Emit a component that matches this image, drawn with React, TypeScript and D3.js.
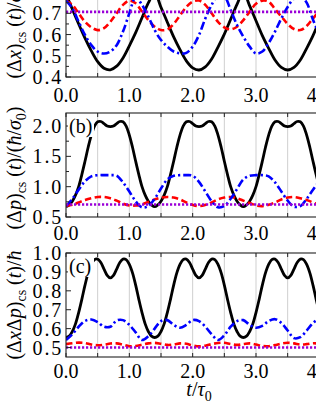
import React from 'react';
import * as d3 from 'd3';

// sample times (t / tau0)
const T10 = d3.range(43).map((i) => Math.round(i * 10) / 100);
const T05 = d3.range(85).map((i) => Math.round(i * 5) / 100);
const T_FLAT = [0, 4.2];

// ---------- panel (a): (Δx)cs(t)/σ0 ----------
const blackA = [0.79,0.72,0.65,0.583,0.523,0.472,0.441,0.434,0.451,0.49,0.547,0.609,0.679,0.749,0.795,0.728,0.658,0.589,0.529,0.476,0.443,0.433,0.448,0.485,0.541,0.602,0.672,0.742,0.80,0.735,0.665,0.595,0.535,0.48,0.445,0.433,0.445,0.48,0.535,0.595,0.665,0.735,0.80];
const redA = [0.76,0.74,0.70,0.66,0.634,0.621,0.63,0.66,0.70,0.74,0.76,0.747,0.708,0.668,0.637,0.621,0.624,0.65,0.69,0.73,0.755,0.76,0.74,0.70,0.66,0.634,0.624,0.637,0.668,0.708,0.745,0.76,0.755,0.72,0.685,0.65,0.626,0.621,0.64,0.676,0.71,0.74,0.758];
const blueA = [0.76,0.724,0.66,0.598,0.55,0.52,0.511,0.52,0.55,0.614,0.70,0.775,0.74,0.685,0.621,0.574,0.543,0.52,0.511,0.514,0.543,0.598,0.676,0.74,0.785,0.78,0.716,0.645,0.59,0.543,0.511,0.52,0.56,0.614,0.676,0.73,0.77,0.785,0.75,0.67,0.60,0.55,0.52];
const purpleA = [0.707, 0.707];

// ---------- panel (b): (Δp)cs(t)/(ħ/σ0) ----------
const blackB = [
  0.67,0.70,0.76,0.86,1.00,1.20,1.42,1.65,1.85,2.00,2.07,2.075,2.04,2.00,1.99,2.00,2.04,2.075,2.07,2.00,1.85,1.65,1.42,1.20,1.00,0.86,0.76,0.70,
  0.67,0.70,0.76,0.86,1.00,1.20,1.42,1.65,1.85,2.00,2.07,2.075,2.04,2.00,1.99,2.00,2.04,2.075,2.07,2.00,1.85,1.65,1.42,1.20,1.00,0.86,0.76,0.70,
  0.67,0.70,0.76,0.86,1.00,1.20,1.42,1.65,1.85,2.00,2.07,2.075,2.04,2.00,1.99,2.00,2.04,2.075,2.07,2.00,1.85,1.65,1.42,1.20,1.00,0.86,0.76,0.70,
  0.67];
const redB = [0.68,0.70,0.74,0.78,0.81,0.83,0.83,0.81,0.77,0.72,0.69,0.69,0.71,0.75,0.79,0.82,0.83,0.82,0.79,0.74,0.70,0.68,0.70,0.74,0.79,0.82,0.83,0.81,0.77,0.73,0.69,0.68,0.70,0.74,0.79,0.82,0.83,0.81,0.78,0.74,0.70,0.68,0.69];
const blueB = [0.68,0.80,0.95,1.09,1.17,1.19,1.19,1.19,1.18,1.07,0.92,0.76,0.66,0.68,0.80,0.97,1.12,1.18,1.19,1.19,1.18,1.08,0.92,0.76,0.66,0.68,0.80,0.96,1.12,1.18,1.19,1.19,1.17,1.07,0.92,0.77,0.67,0.68,0.80,0.95,1.08,1.16,1.19];
const purpleB = [0.707, 0.707];

// ---------- panel (c): (ΔxΔp)cs(t)/ħ ----------
const blackC = [
  0.553,0.56,0.585,0.625,0.685,0.755,0.83,0.895,0.94,0.965,0.968,0.95,0.915,0.882,0.868,0.882,0.915,0.95,0.968,0.965,0.94,0.895,0.83,0.755,0.685,0.625,0.585,0.56,
  0.553,0.56,0.585,0.625,0.685,0.755,0.83,0.895,0.94,0.965,0.968,0.95,0.915,0.882,0.868,0.882,0.915,0.95,0.968,0.965,0.94,0.895,0.83,0.755,0.685,0.625,0.585,0.56,
  0.553,0.56,0.585,0.625,0.685,0.755,0.83,0.895,0.94,0.965,0.968,0.95,0.915,0.882,0.868,0.882,0.915,0.95,0.968,0.965,0.94,0.895,0.83,0.755,0.685,0.625,0.585,0.56,
  0.553];
const redC = [0.518,0.523,0.526,0.524,0.516,0.512,0.515,0.521,0.522,0.515,0.507,0.508,0.515,0.522,0.525,0.52,0.514,0.516,0.522,0.52,0.511,0.506,0.51,0.518,0.524,0.525,0.518,0.514,0.518,0.522,0.516,0.508,0.507,0.513,0.521,0.525,0.522,0.516,0.518,0.523,0.52,0.512,0.508];
const blueC = [0.54,0.57,0.61,0.64,0.648,0.635,0.61,0.61,0.643,0.645,0.62,0.58,0.54,0.56,0.60,0.64,0.645,0.62,0.605,0.62,0.645,0.64,0.61,0.57,0.54,0.565,0.61,0.64,0.645,0.62,0.605,0.615,0.64,0.65,0.63,0.59,0.55,0.555,0.59,0.63,0.65,0.64,0.61];
const purpleC = [0.5, 0.5];

// ---------- ticks ----------
const X_DOMAIN = [0, 4.2];
const X_TICKS = [0, 1, 2, 3, 4];
const X_TICK_LABELS = ['0.0', '1.0', '2.0', '3.0', '4.0'];
const X_GRID = [0.5, 1, 1.5, 2, 2.5, 3, 3.5, 4];
const A_TICKS = [0.4, 0.5, 0.6, 0.7, 0.8];
const A_MINOR = [0.45, 0.55, 0.65, 0.75, 0.85];
const B_TICKS = [0.5, 1.0, 1.5, 2.0];
const B_MINOR = [0.75, 1.25, 1.75];
const C_TICKS = [0.5, 0.6, 0.7, 0.8, 0.9, 1.0];
const C_MINOR: number[] = [];

const W = 316;
const H = 409;
const LEFT = 66;
const RIGHT = 332;
const PANEL_H = 104;
const FONT = "'Liberation Serif', 'Times New Roman', serif";

const STYLES = {
  black: { stroke: '#000000', width: 2.8, dash: undefined as string | undefined },
  red: { stroke: '#ff0000', width: 2.6, dash: '6.5,3.5' },
  blue: { stroke: '#0000ff', width: 2.6, dash: '8,3,2.2,3' },
  purple: { stroke: '#9a00d8', width: 2.6, dash: '2.2,1.8' },
};

type Series = { key: keyof typeof STYLES; t: number[]; v: number[] };

const x = d3.scaleLinear().domain(X_DOMAIN).range([LEFT, RIGHT]);

function YLabel({ kind, cy }: { kind: 'a' | 'b' | 'c'; cy: number }) {
  let content: React.ReactNode;
  if (kind === 'a') {
    content = (
      <>
        <tspan>(Δ</tspan><tspan fontStyle="italic">x</tspan><tspan>)</tspan>
        <tspan fontSize={14} dy={5}>cs</tspan>
        <tspan dy={-5}>{'\u00a0('}</tspan><tspan fontStyle="italic">t</tspan><tspan>)/</tspan>
        <tspan fontStyle="italic">σ</tspan><tspan fontSize={14} dy={5}>0</tspan>
      </>
    );
  } else if (kind === 'b') {
    content = (
      <>
        <tspan>(Δ</tspan><tspan fontStyle="italic">p</tspan><tspan>)</tspan>
        <tspan fontSize={14} dy={5}>cs</tspan>
        <tspan dy={-5}>{'\u00a0('}</tspan><tspan fontStyle="italic">t</tspan><tspan>)/(</tspan>
        <tspan fontStyle="italic">ħ</tspan><tspan>/</tspan>
        <tspan fontStyle="italic">σ</tspan><tspan fontSize={14} dy={5}>0</tspan><tspan dy={-5}>)</tspan>
      </>
    );
  } else {
    content = (
      <>
        <tspan>(Δ</tspan><tspan fontStyle="italic">x</tspan><tspan>Δ</tspan><tspan fontStyle="italic">p</tspan><tspan>)</tspan>
        <tspan fontSize={14} dy={5}>cs</tspan>
        <tspan dy={-5}>{'\u00a0('}</tspan><tspan fontStyle="italic">t</tspan><tspan>)/</tspan>
        <tspan fontStyle="italic">ħ</tspan>
      </>
    );
  }
  return (
    <text transform={`translate(21,${cy}) rotate(-90)`} textAnchor="middle" style={{ fontFamily: FONT, fontSize: 20 }} fill="#000">
      {content}
    </text>
  );
}

function Panel({ id, top, domain, ticks, minor, series, tag, labelKind, labelCy, xLabelOffset }: any) {
  const bottom = top + PANEL_H;
  const y = d3.scaleLinear().domain(domain).range([bottom, top]);
  const line = d3
    .line<[number, number]>()
    .x((d) => x(d[0]))
    .y((d) => y(d[1]))
    .curve(d3.curveCatmullRom.alpha(0.5));
  const clipId = `clip-${id}`;
  return (
    <g>
      <defs>
        <clipPath id={clipId}>
          <rect x={LEFT} y={top} width={RIGHT - LEFT} height={PANEL_H} />
        </clipPath>
      </defs>
      {X_GRID.map((g) => (
        <line key={'g' + g} x1={x(g)} x2={x(g)} y1={top} y2={bottom} stroke="#cfcfcf" strokeWidth={1} />
      ))}
      <g clipPath={`url(#${clipId})`}>
        {(series as Series[]).map((s) => {
          const st = STYLES[s.key];
          const pts = s.t.map((tt, i) => [tt, s.v[i]] as [number, number]);
          return (
            <path
              key={s.key}
              d={line(pts) || ''}
              fill="none"
              stroke={st.stroke}
              strokeWidth={st.width}
              strokeDasharray={st.dash}
              strokeLinejoin="round"
            />
          );
        })}
      </g>
      <rect x={LEFT} y={top} width={RIGHT - LEFT} height={PANEL_H} fill="none" stroke="#222" strokeWidth={1.1} />
      {X_GRID.concat([0]).map((g) => (
        <g key={'xt' + g}>
          <line x1={x(g)} x2={x(g)} y1={bottom} y2={bottom - 4} stroke="#222" strokeWidth={1} />
          <line x1={x(g)} x2={x(g)} y1={top} y2={top + 4} stroke="#222" strokeWidth={1} />
        </g>
      ))}
      {(ticks as number[]).map((v) => (
        <g key={'yt' + v}>
          <line x1={LEFT} x2={LEFT + 5} y1={y(v)} y2={y(v)} stroke="#222" strokeWidth={1} />
          <text x={63} y={y(v)} dy="0.35em" textAnchor="end" style={{ fontFamily: FONT, fontSize: 20, letterSpacing: 1.8 }} fill="#000">
            {v.toFixed(1)}
          </text>
        </g>
      ))}
      {(minor as number[]).map((v) => (
        <line key={'ym' + v} x1={LEFT} x2={LEFT + 3} y1={y(v)} y2={y(v)} stroke="#222" strokeWidth={1} />
      ))}
      {X_TICKS.map((v, i) => (
        <text key={'xl' + v} x={x(v)} y={bottom + xLabelOffset} textAnchor="middle" style={{ fontFamily: FONT, fontSize: 20 }} fill="#000">
          {X_TICK_LABELS[i]}
        </text>
      ))}
      <rect x={LEFT + 2} y={top + 4} width={26} height={20} fill="#fff" />
      <text x={LEFT + 3} y={top + 20} style={{ fontFamily: FONT, fontSize: 20 }} fill="#000">
        {tag}
      </text>
      <YLabel kind={labelKind} cy={labelCy} />
    </g>
  );
}

export default function App() {
  const panels = [
    {
      id: 'a', top: -27, domain: [0.4, 0.89], ticks: A_TICKS, minor: A_MINOR, tag: '(a)', labelKind: 'a', labelCy: 32, xLabelOffset: 25,
      series: [
        { key: 'black', t: T10, v: blackA },
        { key: 'red', t: T10, v: redA },
        { key: 'blue', t: T10, v: blueA },
        { key: 'purple', t: T_FLAT, v: purpleA },
      ],
    },
    {
      id: 'b', top: 113, domain: [0.5, 2.215], ticks: B_TICKS, minor: B_MINOR, tag: '(b)', labelKind: 'b', labelCy: 168, xLabelOffset: 23,
      series: [
        { key: 'black', t: T05, v: blackB },
        { key: 'red', t: T10, v: redB },
        { key: 'blue', t: T10, v: blueB },
        { key: 'purple', t: T_FLAT, v: purpleB },
      ],
    },
    {
      id: 'c', top: 253, domain: [0.45, 1.0], ticks: C_TICKS, minor: C_MINOR, tag: '(c)', labelKind: 'c', labelCy: 305, xLabelOffset: 21,
      series: [
        { key: 'black', t: T05, v: blackC },
        { key: 'red', t: T10, v: redC },
        { key: 'blue', t: T10, v: blueC },
        { key: 'purple', t: T_FLAT, v: purpleC },
      ],
    },
  ];
  return (
    <svg width={W} height={H} style={{ position: 'absolute', left: 0, top: 0, background: '#fff' }}>
      <rect x={0} y={0} width={W} height={H} fill="#fff" />
      {panels.map((p) => (
        <Panel key={p.id} {...p} />
      ))}
      <text x={199} y={396} textAnchor="middle" style={{ fontFamily: FONT, fontSize: 20 }} fill="#000">
        <tspan fontStyle="italic">t</tspan>
        <tspan>/</tspan>
        <tspan fontStyle="italic">τ</tspan>
        <tspan fontSize={14} dy={5}>0</tspan>
      </text>
    </svg>
  );
}
